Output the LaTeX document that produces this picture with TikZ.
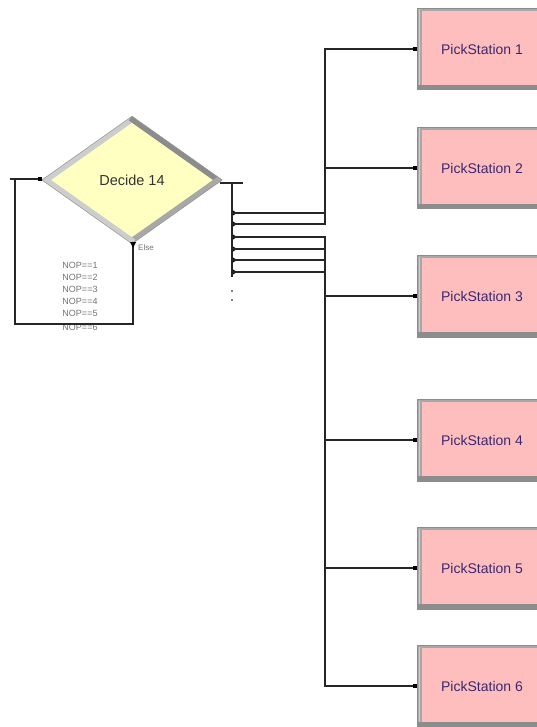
\documentclass[tikz,border=0pt]{standalone}
\usepackage{fontspec}
\setmainfont{Liberation Sans}
\usetikzlibrary{shapes.geometric}
\definecolor{yel}{RGB}{255,255,194}
\definecolor{pinkf}{RGB}{255,190,190}
\definecolor{bevL}{RGB}{205,205,205}
\definecolor{bevM}{RGB}{168,168,168}
\definecolor{bevD}{RGB}{140,140,140}
\definecolor{txtp}{RGB}{58,40,110}
\definecolor{lbl}{RGB}{115,115,115}
\begin{document}
\begin{tikzpicture}[x=1pt,y=-1pt,
  conn/.style={line width=1.1pt, black!85},
  psbox/.style={rectangle, minimum width=130pt, minimum height=82pt, inner sep=0pt, outer sep=0pt,
    fill=pinkf, text=txtp, font=\fontsize{14}{16}\selectfont,
    path picture={
      \fill[bevM] (path picture bounding box.north west) rectangle ([xshift=5pt]path picture bounding box.south west);
      \fill[bevM] (path picture bounding box.north west) rectangle ([yshift=-3pt]path picture bounding box.north east);
      \fill[bevD] ([yshift=5pt]path picture bounding box.south west) rectangle (path picture bounding box.south east);
      \fill[bevL] ([xshift=1.5pt,yshift=-1.5pt]path picture bounding box.north west) rectangle ([xshift=3pt,yshift=5pt]path picture bounding box.south west);
      \draw[black!45, line width=0.8pt] (path picture bounding box.north west) rectangle (path picture bounding box.south east);
    }},
  decshape/.style={diamond, minimum width=181pt, minimum height=128pt, inner sep=0pt, outer sep=0pt,
    fill=yel, text=black!80, font=\fontsize{14.5}{16}\selectfont,
    path picture={
      \draw[bevL, line width=11pt] (path picture bounding box.west) -- (path picture bounding box.north);
      \draw[bevD, line width=11pt] (path picture bounding box.north) -- (path picture bounding box.east);
      \draw[bevM, line width=11pt] (path picture bounding box.east) -- (path picture bounding box.south);
      \draw[bevL, line width=11pt] (path picture bounding box.south) -- (path picture bounding box.west);
      \draw[black!40, line width=1pt] (path picture bounding box.west) -- (path picture bounding box.north) -- (path picture bounding box.east) -- (path picture bounding box.south) -- cycle;
    }},
  nop/.style={text=lbl, font=\fontsize{9}{10}\selectfont, inner sep=0pt},
  entry/.style={fill=black, inner sep=0pt, minimum size=4pt, rectangle},
]
\useasboundingbox (0,0) rectangle (537,727);
\clip (0,0) rectangle (537,727);

% decide
\node[decshape] (dec) at (132,180) {Decide 14};

% boxes
\node[psbox] (ps1) at (482,49)  {PickStation 1};
\node[psbox] (ps2) at (482,168) {PickStation 2};
\node[psbox] (ps3) at (482,296) {PickStation 3};
\node[psbox] (ps4) at (482,440) {PickStation 4};
\node[psbox] (ps5) at (482,568) {PickStation 5};
\node[psbox] (ps6) at (482,686) {PickStation 6};

% labels
\node[nop, anchor=west] (else) at (138,248) {\fontsize{8}{9}\selectfont Else};
\node[nop] (n1) at (80,265) {NOP==1};
\node[nop] (n2) at (80,277) {NOP==2};
\node[nop] (n3) at (80,289) {NOP==3};
\node[nop] (n4) at (80,301) {NOP==4};
\node[nop] (n5) at (80,313) {NOP==5};
\node[nop] (n6) at (80,327) {NOP==6};

% entry / loop
\coordinate (stub) at (10,179);
\coordinate (din) at (40,179);
\coordinate (dout) at (133,244);
\draw[conn] (stub) -- (din);
\draw[conn] (dout) -- ++(0,80) -| (15,179);
\node[entry] at (din) {};
\fill[black] (130,242) -- (136,242) -- (133,248) -- cycle;

% exit bar
\coordinate (xbtop) at (232,183);
\draw[conn] (220,183) -- (243,183);
\draw[conn] (xbtop) -- (232,277);
\fill[black] (232,291) circle (0.9);
\fill[black] (232,300) circle (0.9);

\coordinate (e1) at (233,213);
\coordinate (e2) at (233,224);
\coordinate (e3) at (233,237);
\coordinate (e4) at (233,249);
\coordinate (e5) at (233,260);
\coordinate (e6) at (233,272);

\foreach \i in {1,...,6}{
  \fill[black] ([yshift=2.5pt]e\i) -- ([xshift=4pt]e\i) -- ([yshift=-2.5pt]e\i) -- cycle;
  \draw[conn] (e\i) -- ++(92,0) |- (ps\i.west);
  \node[entry] at ([xshift=-2pt]ps\i.west) {};
}
\end{tikzpicture}
\end{document}
